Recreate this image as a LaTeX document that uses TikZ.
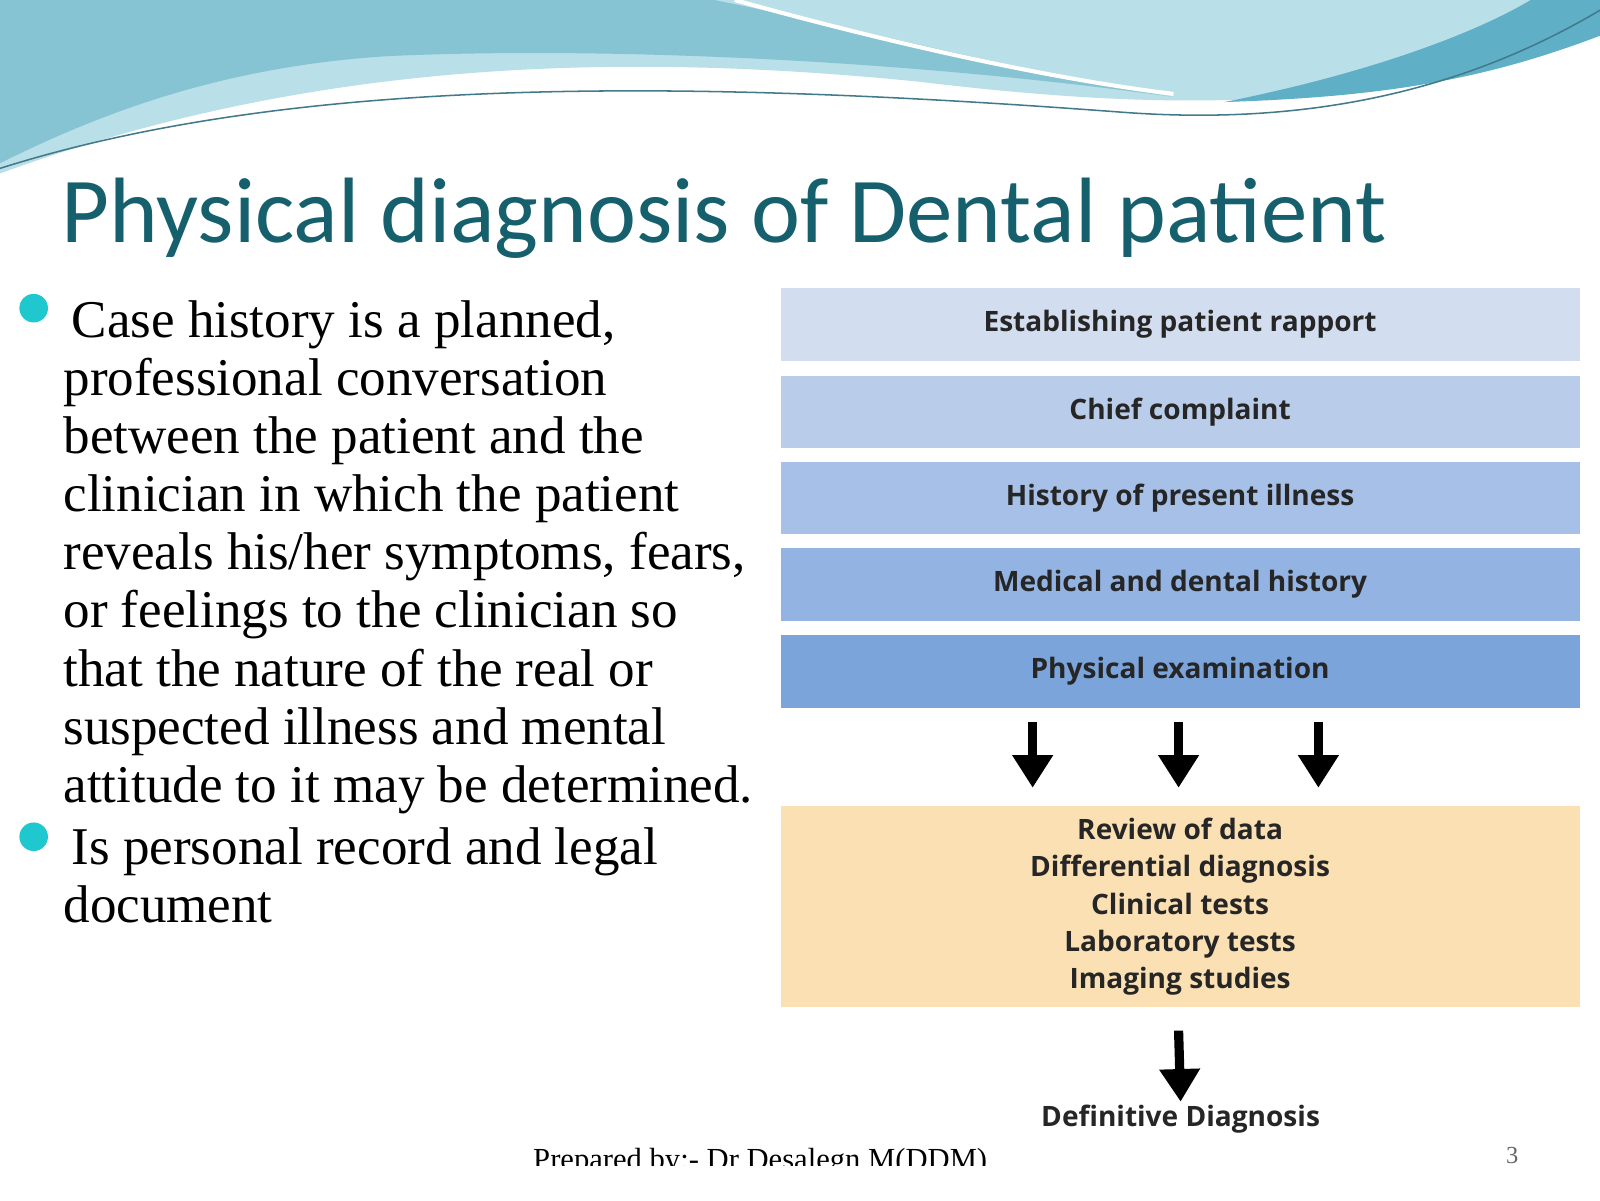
\documentclass[tikz,border=0pt]{standalone}
\usepackage{fontspec}
\setmainfont{Liberation Serif}
\newfontfamily\boxfont{Open Sans}
\usetikzlibrary{arrows.meta}
\definecolor{titleC}{HTML}{16606E}
\definecolor{waveA}{HTML}{86C3D3}
\definecolor{waveB}{HTML}{B9DFE8}
\definecolor{waveC}{HTML}{5FAFC6}
\definecolor{bA}{HTML}{D3DDF0}
\definecolor{bB}{HTML}{B9CDEB}
\definecolor{bC}{HTML}{A6C0E7}
\definecolor{bD}{HTML}{93B3E2}
\definecolor{bE}{HTML}{7BA4DB}
\definecolor{orng}{HTML}{FBE0B4}
\definecolor{dotC}{HTML}{1FC8CF}
\begin{document}
\begin{tikzpicture}[x=1pt,y=-1pt,
  stepbox/.style={minimum width=783pt,minimum height=71pt,inner sep=0pt,font=\boxfont\fontsize{27.5}{32}\selectfont\bfseries,text=black!85},
  darr/.style={-{Triangle[width=38pt,length=32pt]},line width=9pt},
  body/.style={anchor=north west,align=left,inner sep=0pt,font=\fontsize{52}{57}\selectfont}]
\useasboundingbox (0,0) rectangle (1568,1176);
\fill[white] (0,0) rectangle (1568,1176);
% waves
\fill[waveB] (0,0) -- (1568,0) -- (1568,30) .. controls (1350,110) and (1150,110) .. (900,80) .. controls (600,50) and (300,60) .. (0,170) -- cycle;
\fill[waveA] (0,0) -- (700,0) .. controls (850,30) and (1000,70) .. (1150,95) .. controls (900,60) and (600,45) .. (380,55) .. controls (220,65) and (100,110) .. (0,160) -- cycle;
\fill[waveC] (1568,0) -- (1568,35) .. controls (1450,80) and (1350,95) .. (1200,100) .. controls (1350,70) and (1450,30) .. (1500,0) -- cycle;
\draw[waveC!70!black,line width=1.5pt] (0,165) .. controls (300,70) and (700,80) .. (1100,110) .. controls (1300,125) and (1450,80) .. (1568,10);
\draw[white,line width=4pt] (720,0) .. controls (900,50) and (1050,80) .. (1150,92);
% title
\node[anchor=base west,inner sep=0pt,text=titleC,font=\fontspec{Carlito}\fontsize{91}{95}\selectfont] (title) at (60,238) {Physical diagnosis of Dental patient};
% bullets
\fill[dotC] (33,302) circle (14pt);
\fill[dotC] (33,820) circle (14pt);
\node[body] (p1) at (62,294) {\hspace*{8pt}Case history is a planned,\\professional conversation\\between the patient and the\\clinician in which the patient\\reveals his/her symptoms, fears,\\or feelings to the clinician so\\that the nature of the real or\\suspected illness and mental\\attitude to it may be determined.};
\node[body] (p2) at (62,811) {\hspace*{8pt}Is personal record and legal\\document};
% boxes
\node[stepbox,fill=bA] (s1) at (1156.5,318) {Establishing patient rapport};
\node[stepbox,fill=bB] (s2) at (1156.5,404) {Chief complaint};
\node[stepbox,fill=bC] (s3) at (1156.5,488) {History of present illness};
\node[stepbox,fill=bD] (s4) at (1156.5,573) {Medical and dental history};
\node[stepbox,fill=bE] (s5) at (1156.5,658) {Physical examination};
\node[fill=orng,minimum width=783pt,minimum height=197pt,inner sep=0pt,align=center,font=\boxfont\fontsize{27.5}{36.5}\selectfont\bfseries,text=black!85] (rev) at (1156.5,888.5) {Review of data\\Differential diagnosis\\Clinical tests\\Laboratory tests\\Imaging studies};
\coordinate (a1s) at (1012,708); \coordinate (a1e) at (1012,772);
\coordinate (a2s) at (1155,708); \coordinate (a2e) at (1155,772);
\coordinate (a3s) at (1292,708); \coordinate (a3e) at (1292,772);
\draw[darr] (a1s) -- (a1e);
\draw[darr] (a2s) -- (a2e);
\draw[darr] (a3s) -- (a3e);
\node[font=\boxfont\fontsize{27.5}{32}\selectfont\bfseries,text=black!85] (def) at (1157,1097) {Definitive Diagnosis};
\coordinate (a4s) at (1155,1010);
\draw[darr] (a4s) -- (def.north);
\node[font=\fontsize{30}{32}\selectfont,anchor=base] (foot) at (745,1146) {Prepared by:- Dr Desalegn M(DDM)};
\node[font=\fontsize{24}{26}\selectfont,anchor=base,text=black!60] (pg) at (1482,1140) {3};
\fill[white] (400,1143) rectangle (1568,1176);
\end{tikzpicture}
\end{document}
